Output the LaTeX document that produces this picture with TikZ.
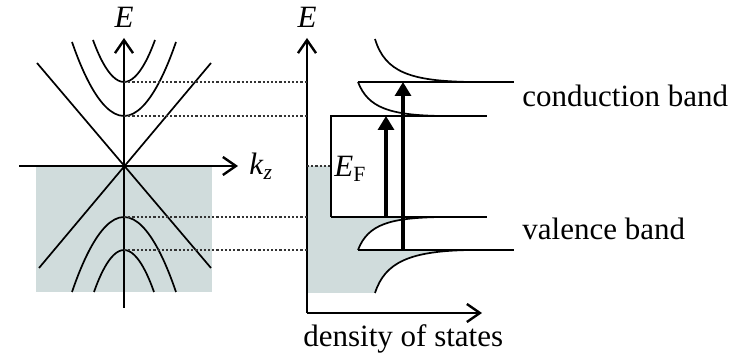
\documentclass[tikz,border=0pt]{standalone}
\usepackage{fontspec}
\setmainfont{Liberation Serif}
\usetikzlibrary{arrows.meta}
\definecolor{filled}{RGB}{208,220,220}
\tikzset{
  axis/.style={line width=1.2pt, -{Straight Barb[length=6.5pt,width=9pt,line width=1.2pt]}},
  band/.style={line width=0.85pt},
  level/.style={densely dotted, line width=1.1pt, black!80},
  transition/.style={line width=1.6pt, -{Triangle[length=7pt,width=8pt]}},
  lbl/.style={font=\fontsize{15.5}{18}\selectfont, inner sep=0pt},
}
\begin{document}
\begin{tikzpicture}[x=0.5pt, y=-0.5pt]
  \useasboundingbox (0,0) rectangle (729,357);
  % Origines et niveaux
  \coordinate (k0) at (124,166);
  \coordinate (d0) at (307,313);
  \coordinate (c2) at (124,82);
  \coordinate (c1) at (124,116);
  \coordinate (v1) at (124,217);
  \coordinate (v2) at (124,250);
  % Etats occupes
  \fill[filled] (36,166) rectangle (212,292);
  \fill[filled] (307,166) -- (331,166) -- (331,217) -- (440,217)
    .. controls (390,218) and (368,224) .. (358,250) -- (470,250)
    .. controls (410,251) and (385,262) .. (375,293) -- (307,293) -- cycle;
  % Cone de Dirac
  \draw[band] (37,63) -- (211,268);
  \draw[band] (211,63) -- (39,268);
  % Paraboles
  \draw[band] (93,40) parabola bend (c2) (155,40);
  \draw[band] (72,42) parabola bend (c1) (176,42);
  \draw[band] (72,292) parabola bend (v1) (176,292);
  \draw[band] (94,292) parabola bend (v2) (154,292);
  % Axes
  \draw[axis] (124,308) -- (124,38);
  \draw[axis] (19,166) -- (238,166);
  \node[lbl, anchor=base] (E1) at (124,28) {\textit{E}};
  \node[lbl, anchor=base west] (kz) at (249,175) {\textit{k}\textsubscript{\textit{z}}};
  \draw[axis] (d0) -- (307,38);
  \draw[axis] (d0) -- (482,313);
  \node[lbl, anchor=base] (E2) at (307,28) {\textit{E}};
  \node[lbl, anchor=base west] (dos) at (303,347) {density of states};
  % Niveaux
  \foreach \p in {c2,c1,v1,v2}
    \draw[level] (\p) -- (\p -| d0);
  \draw[level] (d0 |- k0) -- (331,166);
  \node[lbl, anchor=base west] (EF) at (334,177) {\textit{E}\textsubscript{F}};
  % Densite d'etats
  \draw[band] (375,39) .. controls (385,72) and (410,81) .. (470,82);
  \draw[band] (358,82) -- (514,82);
  \draw[band] (358,82) .. controls (368,108) and (390,115) .. (440,116);
  \draw[band] (331,217) -- (331,116) -- (487,116);
  \draw[band] (331,217) -- (487,217);
  \draw[band] (358,250) .. controls (368,224) and (390,218) .. (440,217);
  \draw[band] (358,250) -- (514,250);
  \draw[band] (375,293) .. controls (385,262) and (410,251) .. (470,250);
  % Transitions
  \draw[transition] (386,217) -- (386,116);
  \draw[transition] (403,250) -- (403,82);
  % Legende
  \node[lbl, anchor=base west] (cb) at (522,107) {conduction band};
  \node[lbl, anchor=base west] (vb) at (522,240) {valence band};
\end{tikzpicture}
\end{document}
